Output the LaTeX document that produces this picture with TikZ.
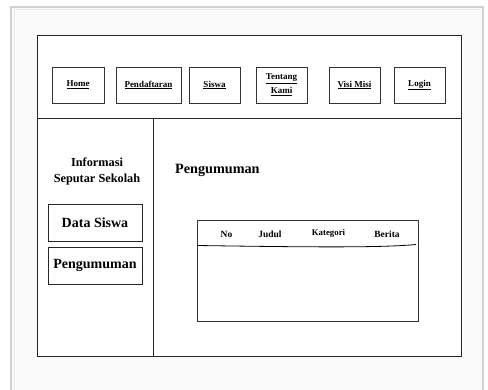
\documentclass[tikz,border=0pt]{standalone}
\usepackage{fontspec}
\setmainfont{Liberation Serif}
\begin{document}
\begin{tikzpicture}[x=1pt,y=-1pt,
  navbtn/.style={draw=black!80, line width=0.7pt, fill=white, inner sep=0pt, font=\fontsize{9}{10}\selectfont\bfseries, align=center},
  sidebtn/.style={draw=black!85, line width=0.8pt, inner sep=0pt, font=\fontsize{14}{16}\selectfont\bfseries},
  hdr/.style={font=\fontsize{9.5}{11}\selectfont\bfseries, anchor=center}]
\useasboundingbox (0,0) rectangle (488,390);
\fill[white] (0,0) rectangle (488,390);
\draw[black!18, line width=2pt, fill=black!2] (11,7) rectangle (483,400);
\draw[black!8, line width=1pt] (14,10) -- (480,10);
\draw[black!8, line width=1pt] (14,10) -- (14,390);
% main frame
\draw[black!85, line width=0.8pt, fill=white] (37,35) rectangle (461,356);
\draw[black!85, line width=0.8pt] (37,118) -- (461,118);
\draw[black!85, line width=0.8pt] (153.5,118) -- (153.5,356);
% nav buttons
\node[navbtn, minimum width=52pt, minimum height=36pt] (home) at (78,85) {\underline{Home}};
\node[navbtn, minimum width=65pt, minimum height=36pt] (pend) at (148.5,85) {\underline{Pendaftaran}};
\node[navbtn, minimum width=51pt, minimum height=36pt] (siswa) at (214.5,85) {\underline{Siswa}};
\node[navbtn, minimum width=51pt, minimum height=36pt, font=\fontsize{9}{14}\selectfont\bfseries] (tentang) at (281.5,85) {\underline{Tentang}\\\underline{Kami}};
\node[navbtn, minimum width=51pt, minimum height=36pt] (visi) at (354.5,85) {\underline{Visi Misi}};
\node[navbtn, minimum width=51pt, minimum height=36pt] (login) at (419.5,85) {\underline{Login}};
% sidebar
\node[font=\fontsize{12.3}{16}\selectfont\bfseries, align=center] (info) at (97,171) {Informasi\\Seputar Sekolah};
\node[sidebtn, minimum width=94pt, minimum height=37pt] (data) at (95,222.5) {Data Siswa};
\node[sidebtn, minimum width=94pt, minimum height=37pt] (peng) at (95,265.5) {Pengumuman};
% content
\node[font=\fontsize{14.2}{16}\selectfont\bfseries, anchor=west, inner sep=0pt] (head) at (175,170) {Pengumuman};
\draw[black!80, line width=0.7pt] (197,220) rectangle (418,321);
\coordinate (tl) at (197,245.5);
\coordinate (tr) at (416,244.5);
\draw[black, line width=0.8pt] (tl) .. controls (300,247) and (380,248) .. (tr);
\node[hdr] (no) at (226.5,234.5) {No};
\node[hdr] (judul) at (270,234.5) {Judul};
\node[hdr, font=\fontsize{8.8}{10}\selectfont\bfseries] (kat) at (328.5,233.5) {Kategori};
\node[hdr] (berita) at (387,234.5) {Berita};
\end{tikzpicture}
\end{document}
